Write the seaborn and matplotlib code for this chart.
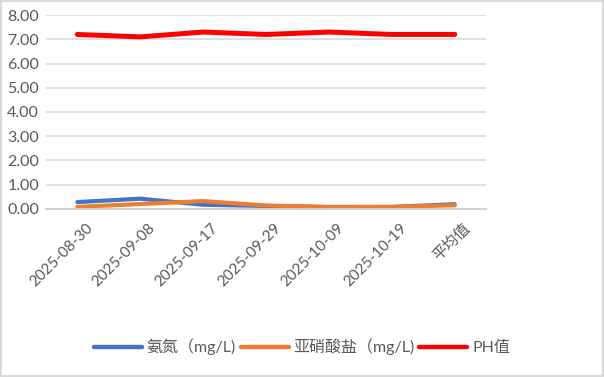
import pandas as pd
import seaborn as sns
import matplotlib.pyplot as plt
from matplotlib.transforms import ScaledTranslation

dates = ["2025-08-30", "2025-09-08", "2025-09-17", "2025-09-29",
         "2025-10-09", "2025-10-19", "平均值"]
ammonia = [0.28, 0.42, 0.17, 0.12, 0.07, 0.08, 0.19]
nitrite = [0.08, 0.20, 0.32, 0.14, 0.08, 0.08, 0.15]
ph = [7.2, 7.1, 7.3, 7.2, 7.3, 7.2, 7.2]

names = ["氨氮（mg/L)", "亚硝酸盐（mg/L)", "PH值"]
colors = ["#4472c4", "#ed7d31", "#ff0000"]
widths = [3.0, 3.0, 3.6]

sns.set_style("white")
plt.rcParams["font.family"] = ["Lato", "Noto Sans CJK SC", "DejaVu Sans"]

df = pd.DataFrame({"日期": dates, names[0]: ammonia, names[1]: nitrite, names[2]: ph})
long_df = df.melt(id_vars="日期", var_name="指标", value_name="值")

fig = plt.figure(figsize=(6.04, 3.77), dpi=100)
fig.patch.set_edgecolor("#d9d9d9")
fig.patch.set_linewidth(1.5)
ax = fig.add_axes([0.076, 0.446, 0.729, 0.514])

for name, c, lw in zip(names, colors, widths):
    sub = long_df[long_df["指标"] == name]
    sns.lineplot(data=sub, x="日期", y="值", color=c, linewidth=lw, ax=ax,
                 sort=False, label=name, solid_capstyle="round")

ax.set_xlim(-0.5, len(dates) - 0.5)
ax.set_ylim(0, 8)
ax.set_yticks(range(0, 9))
ax.set_yticklabels([f"{v:.2f}" for v in range(0, 9)])
ax.yaxis.grid(True, color="#d9d9d9", linewidth=1.2)
ax.set_axisbelow(True)
for s in ["left", "right", "top"]:
    ax.spines[s].set_visible(False)
ax.spines["bottom"].set_color("#d0d0d0")
ax.spines["bottom"].set_linewidth(1.4)
ax.tick_params(axis="y", length=0, labelsize=11.5, colors="#595959", pad=5)
ax.tick_params(axis="x", length=0, labelsize=11, colors="#595959", pad=9)
shift = ScaledTranslation(8 / 100, 0, fig.dpi_scale_trans)
for lab in ax.get_xticklabels():
    lab.set_rotation(45)
    lab.set_ha("right")
    lab.set_rotation_mode("anchor")
    lab.set_transform(lab.get_transform() + shift)
ax.set_xlabel("")
ax.set_ylabel("")

handles, labels = ax.get_legend_handles_labels()
ax.legend_.remove()
leg = fig.legend(handles, labels, loc="center", bbox_to_anchor=(0.5, 0.08), ncol=3,
                 frameon=False, fontsize=11.5, handlelength=3.0, handletextpad=0.3,
                 columnspacing=0.3, labelcolor="#595959")
for line in leg.get_lines():
    line.set_linewidth(3.2)
    line.set_solid_capstyle("round")

fig.savefig("out.png", dpi=100)
